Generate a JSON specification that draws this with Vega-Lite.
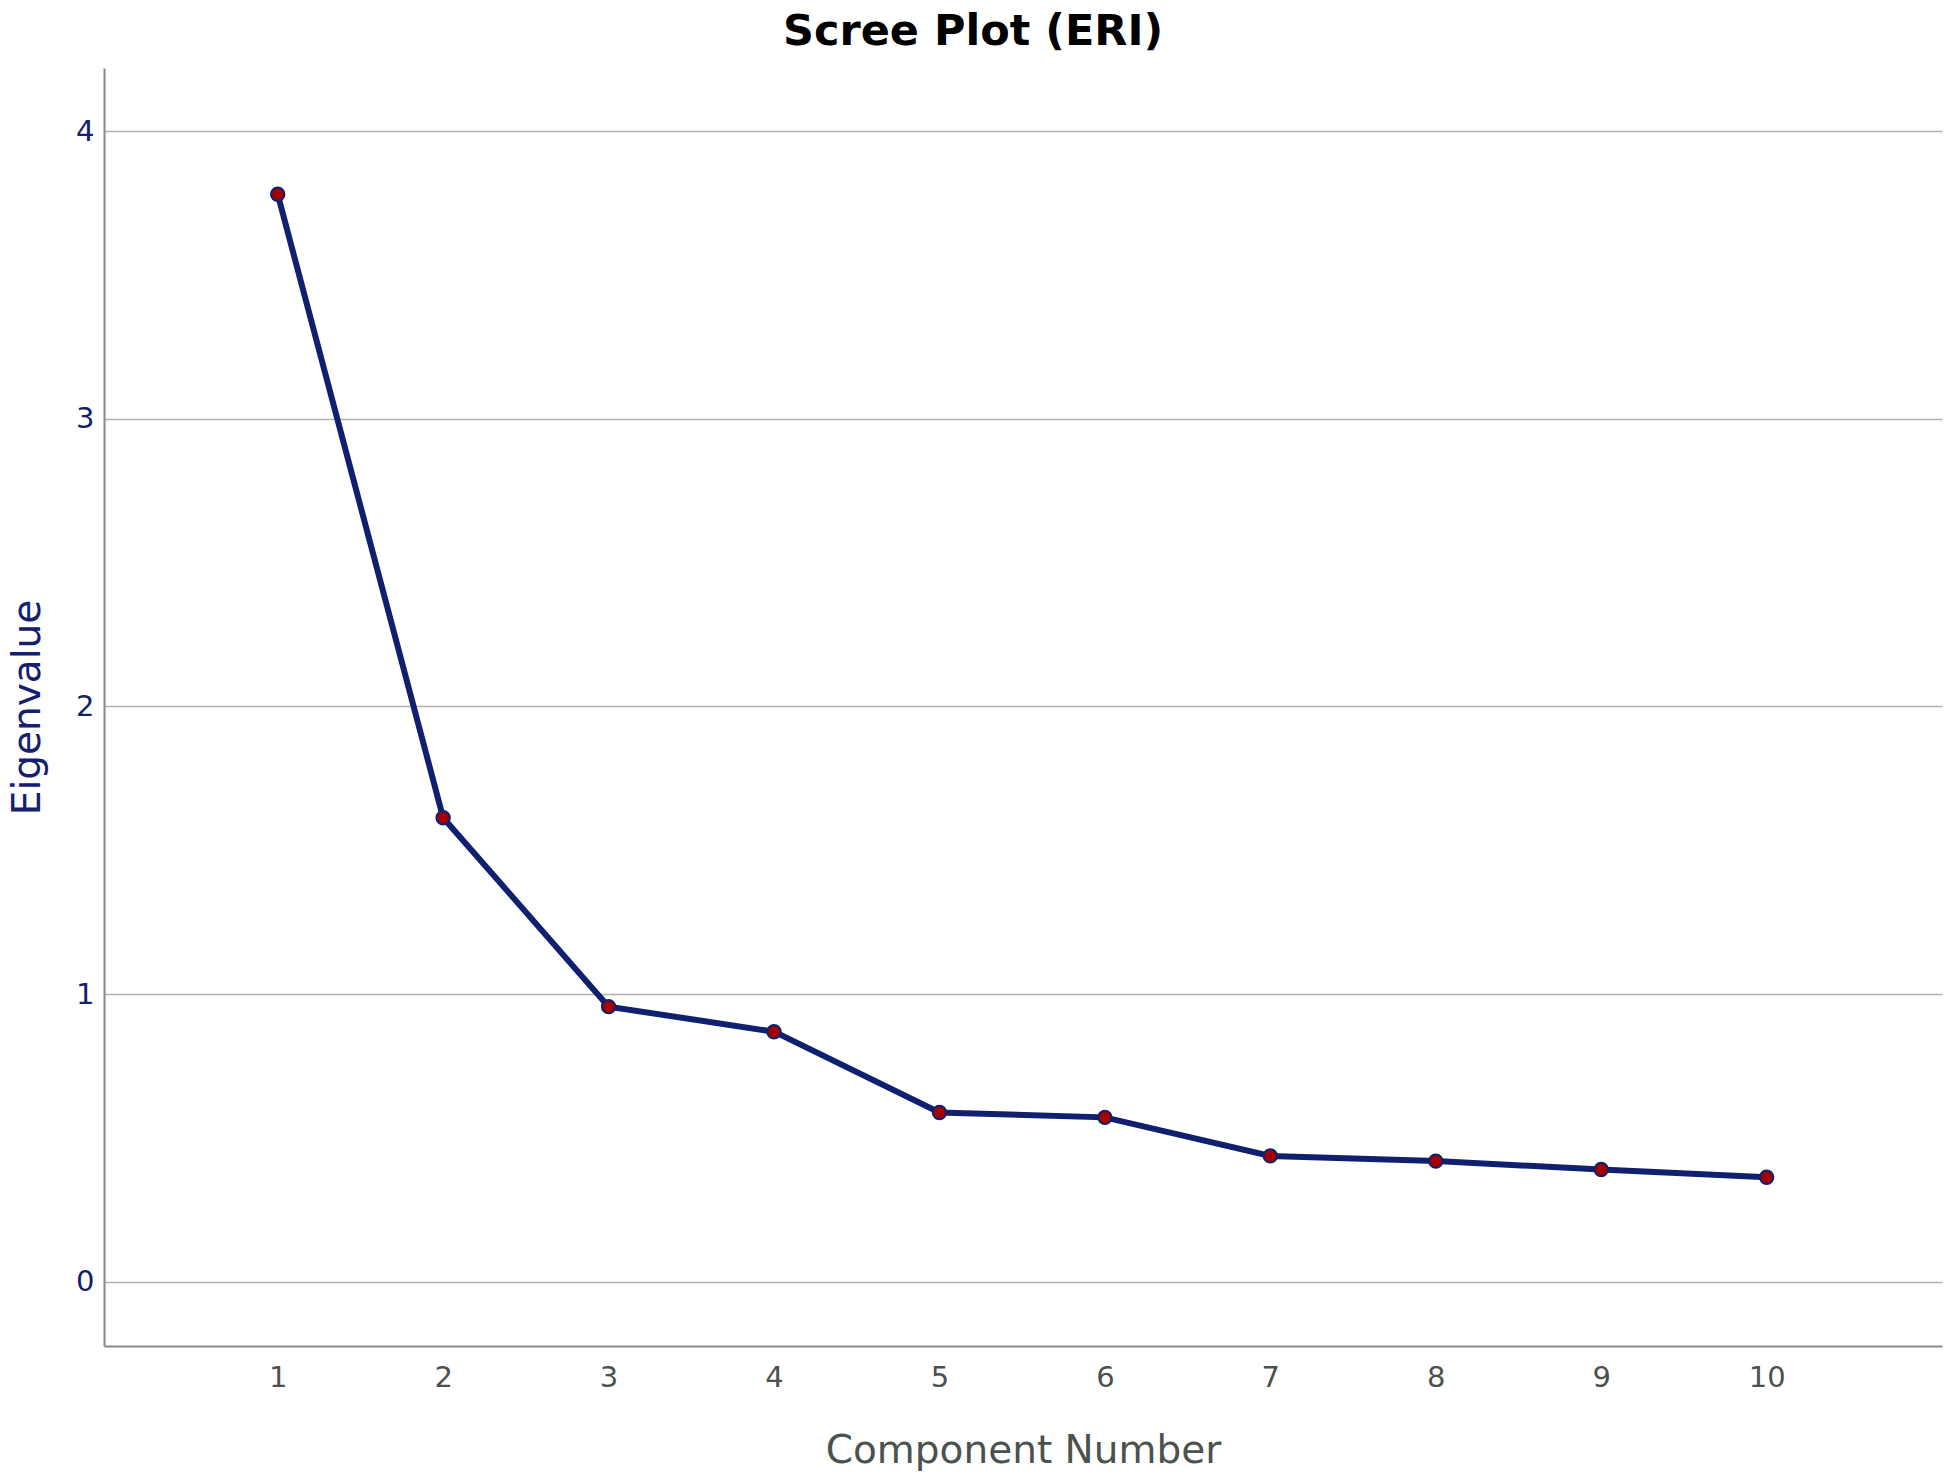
{
  "$schema": "https://vega.github.io/schema/vega-lite/v6.json",
  "width": 1838,
  "height": 1278,
  "autosize": "none",
  "padding": {"left": 104, "top": 68, "right": 4, "bottom": 135},
  "background": "white",
  "title": {
    "text": "Scree Plot (ERI)",
    "font": "DejaVu Sans",
    "fontSize": 43,
    "fontWeight": "bold",
    "color": "#000000",
    "anchor": "middle",
    "dx": -50,
    "offset": 14
  },
  "data": {
    "values": [
      {"component": 1, "eigenvalue": 3.781},
      {"component": 2, "eigenvalue": 1.613},
      {"component": 3, "eigenvalue": 0.956},
      {"component": 4, "eigenvalue": 0.869},
      {"component": 5, "eigenvalue": 0.588},
      {"component": 6, "eigenvalue": 0.571},
      {"component": 7, "eigenvalue": 0.437},
      {"component": 8, "eigenvalue": 0.419},
      {"component": 9, "eigenvalue": 0.390},
      {"component": 10, "eigenvalue": 0.363}
    ]
  },
  "config": {
    "view": {"stroke": null},
    "axis": {"labelFont": "DejaVu Sans", "titleFont": "DejaVu Sans", "titleFontWeight": "normal"}
  },
  "encoding": {
    "x": {
      "field": "component",
      "type": "quantitative",
      "scale": {"domain": [-0.05, 11.06], "nice": false, "zero": false},
      "axis": {
        "title": "Component Number",
        "values": [1, 2, 3, 4, 5, 6, 7, 8, 9, 10],
        "grid": false,
        "ticks": false,
        "domainColor": "#888888",
        "domainWidth": 2,
        "labelColor": "#4a524e",
        "labelFontSize": 29,
        "labelPadding": 17,
        "titleColor": "#4a524e",
        "titleFontSize": 39,
        "titlePadding": 39
      }
    },
    "y": {
      "field": "eigenvalue",
      "type": "quantitative",
      "scale": {"domain": [-0.224, 4.22], "nice": false, "zero": false},
      "axis": {
        "title": "Eigenvalue",
        "values": [0, 1, 2, 3, 4],
        "grid": true,
        "gridColor": "#b0b0b0",
        "gridWidth": 1.5,
        "ticks": false,
        "domainColor": "#888888",
        "domainWidth": 2,
        "labelColor": "#14206e",
        "labelFontSize": 29,
        "labelPadding": 10,
        "titleColor": "#14206e",
        "titleFontSize": 39,
        "titlePadding": 28
      }
    }
  },
  "layer": [
    {
      "mark": {"type": "line", "color": "#10206e", "strokeWidth": 6}
    },
    {
      "mark": {"type": "point", "filled": true, "shape": "circle", "fill": "#a30000", "stroke": "#10206e", "strokeWidth": 2, "size": 180, "opacity": 1}
    }
  ]
}
